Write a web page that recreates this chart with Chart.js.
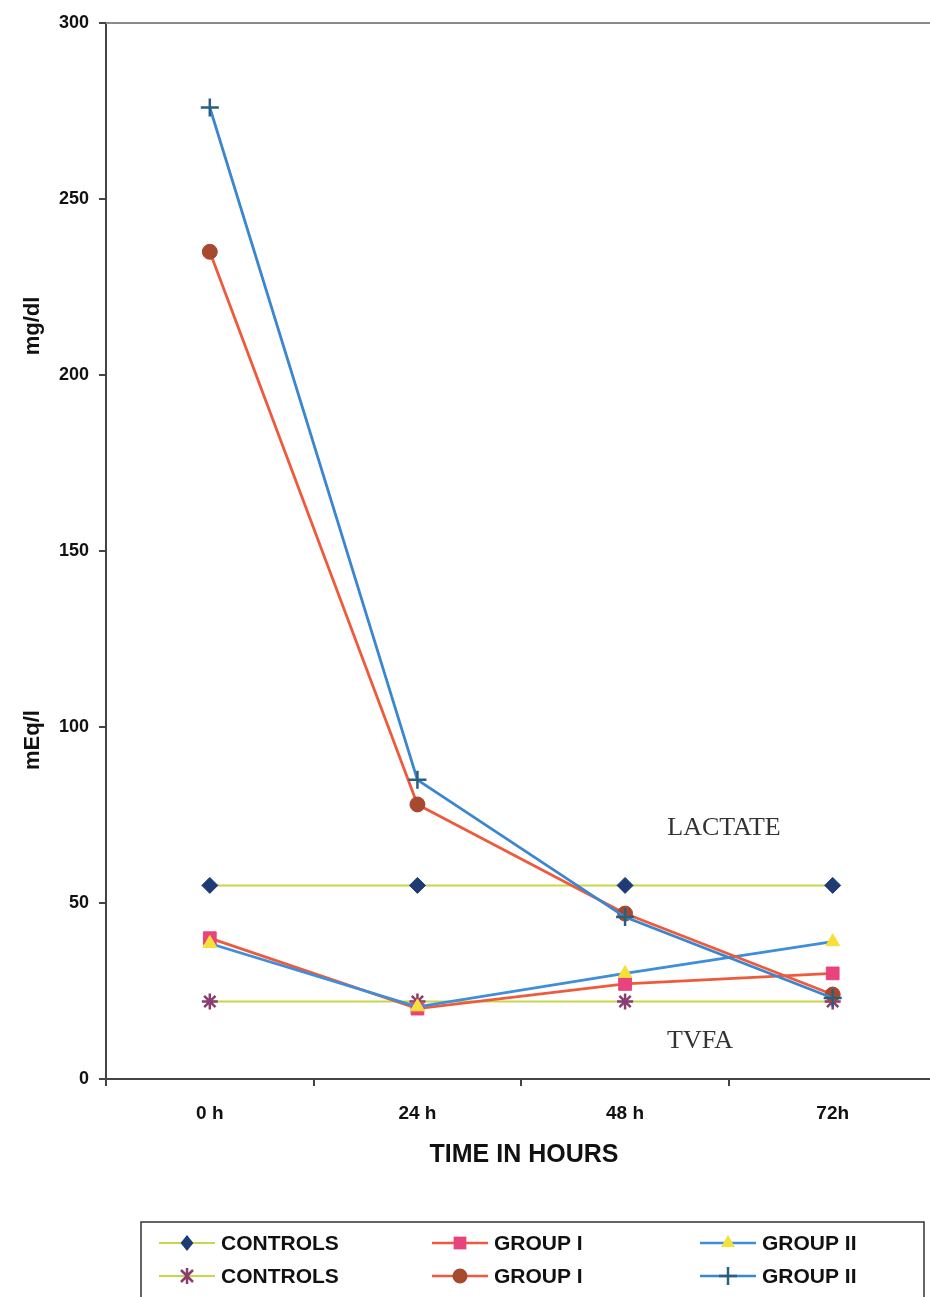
<!DOCTYPE html>
<html>
<head>
<meta charset="utf-8">
<script src="https://cdn.jsdelivr.net/npm/chart.js@4.4.1/dist/chart.umd.min.js"></script>
<style>
html,body{margin:0;padding:0;background:#fff;overflow:hidden;width:930px;height:1297px;}
canvas{display:block;}
</style>
</head>
<body>
<canvas id="c" width="948" height="1297"></canvas>
<script>
// ---- data ----
const categories = ['0 h', '24 h', '48 h', '72h'];
const controlsLactate = [55, 55, 55, 55];
const controlsTvfa = [22, 22, 22, 22];
const group1Tvfa = [40, 20, 27, 30];
const group2Tvfa = [38.5, 20.5, 30, 39];
const group1Lactate = [235, 78, 47, 24];
const group2Lactate = [276, 85, 46, 23];
const yMin = 0, yMax = 300, yStep = 50;
const legendLabels = ['CONTROLS', 'GROUP I', 'GROUP II', 'CONTROLS', 'GROUP I', 'GROUP II'];
const xTitle = 'TIME IN HOURS';
const yTitles = ['mg/dl', 'mEq/l'];
const notes = ['LACTATE', 'TVFA'];

const SANS = "'Liberation Sans', Arial, sans-serif";
const SERIF = "'Liberation Serif', 'Times New Roman', serif";

const styles = [
  {line: '#c8d64a', mk: '#1f3b73', ps: 'rectRot', r: 8, lw: 2},
  {line: '#ef5a3c', mk: '#e8437d', ps: 'rect', r: 9, lw: 2.8},
  {line: '#3d8fdc', mk: '#f5e03a', ps: 'triangle', r: 8, lw: 2.8},
  {line: '#c8d64a', mk: '#8a3d6e', ps: 'star', r: 8, lw: 2},
  {line: '#ef5a3c', mk: '#a6492e', ps: 'circle', r: 7.5, lw: 2.8},
  {line: '#3a86d0', mk: '#2a5f80', ps: 'cross', r: 9, lw: 2.8}
];
const series = [controlsLactate, group1Tvfa, group2Tvfa, controlsTvfa, group1Lactate, group2Lactate];
const orders = [10, 3, 2, 9, 1, 0];

const datasets = series.map((d, i) => ({
  label: legendLabels[i],
  data: d,
  borderColor: styles[i].line,
  borderWidth: styles[i].lw,
  backgroundColor: styles[i].mk,
  pointBackgroundColor: styles[i].mk,
  pointBorderColor: styles[i].mk,
  pointBorderWidth: (styles[i].ps === 'cross' || styles[i].ps === 'star') ? 2.5 : 1,
  pointStyle: styles[i].ps,
  pointRadius: styles[i].r,
  pointHoverRadius: styles[i].r,
  tension: 0,
  fill: false,
  order: orders[i]
}));

function drawMarker(ctx, ps, x, y, r, color) {
  ctx.save();
  ctx.fillStyle = color; ctx.strokeStyle = color; ctx.lineWidth = 2.5;
  ctx.beginPath();
  if (ps === 'rectRot') {
    ctx.moveTo(x, y - r); ctx.lineTo(x + r * 0.8, y); ctx.lineTo(x, y + r); ctx.lineTo(x - r * 0.8, y); ctx.closePath(); ctx.fill();
  } else if (ps === 'rect') {
    const s = r / Math.SQRT2; ctx.fillRect(x - s, y - s, 2 * s, 2 * s);
  } else if (ps === 'triangle') {
    ctx.moveTo(x, y - r); ctx.lineTo(x + r * 0.87, y + r * 0.5); ctx.lineTo(x - r * 0.87, y + r * 0.5); ctx.closePath(); ctx.fill();
  } else if (ps === 'circle') {
    ctx.arc(x, y, r, 0, Math.PI * 2); ctx.fill();
  } else if (ps === 'cross') {
    ctx.moveTo(x - r, y); ctx.lineTo(x + r, y); ctx.moveTo(x, y - r); ctx.lineTo(x, y + r); ctx.stroke();
  } else if (ps === 'star') {
    ctx.moveTo(x, y - r); ctx.lineTo(x, y + r);
    const a = r * 0.75;
    ctx.moveTo(x - a, y - a); ctx.lineTo(x + a, y + a);
    ctx.moveTo(x - a, y + a); ctx.lineTo(x + a, y - a);
    ctx.stroke();
  }
  ctx.restore();
}

const decor = {
  id: 'decor',
  beforeDatasetsDraw(chart) {
    const {ctx, chartArea} = chart;
    ctx.save();
    ctx.strokeStyle = '#8a8a8a';
    ctx.lineWidth = 2;
    ctx.beginPath();
    ctx.moveTo(chartArea.left, chartArea.top);
    ctx.lineTo(chartArea.right + 10, chartArea.top);
    ctx.stroke();
    ctx.restore();
  },
  afterDraw(chart) {
    const {ctx} = chart;
    ctx.save();
    // y titles
    ctx.fillStyle = '#111';
    ctx.font = 'bold 22px ' + SANS;
    ctx.textAlign = 'center';
    ctx.textBaseline = 'middle';
    [[33, 326], [33, 740]].forEach((p, i) => {
      ctx.save(); ctx.translate(p[0], p[1]); ctx.rotate(-Math.PI / 2);
      ctx.fillText(yTitles[i], 0, 0); ctx.restore();
    });
    // x title
    ctx.font = 'bold 25px ' + SANS;
    ctx.fillText(xTitle, 524, 1155);
    // notes
    ctx.font = '26px ' + SERIF;
    ctx.fillStyle = '#333';
    ctx.fillText(notes[0], 724, 828);
    ctx.fillText(notes[1], 700, 1041);
    // legend box
    ctx.strokeStyle = '#333';
    ctx.lineWidth = 1.5;
    ctx.strokeRect(141, 1222, 783, 90);
    const cols = [187, 460, 728];
    const rows = [1243, 1276];
    ctx.font = 'bold 21px ' + SANS;
    ctx.textAlign = 'left';
    for (let i = 0; i < 6; i++) {
      const cx = cols[i % 3], cy = rows[Math.floor(i / 3)];
      const st = styles[i];
      ctx.strokeStyle = st.line; ctx.lineWidth = Math.min(st.lw, 2.5);
      ctx.beginPath(); ctx.moveTo(cx - 28, cy); ctx.lineTo(cx + 28, cy); ctx.stroke();
      drawMarker(ctx, st.ps, cx, cy, st.r, st.mk);
      ctx.fillStyle = '#111';
      ctx.fillText(legendLabels[i], cx + 34, cy + 1);
    }
    ctx.restore();
  }
};

new Chart(document.getElementById('c'), {
  type: 'line',
  data: {labels: categories, datasets},
  options: {
    responsive: false,
    animation: false,
    events: [],
    layout: {padding: {left: 0, right: 4, top: 23, bottom: 0}},
    plugins: {legend: {display: false}, tooltip: {enabled: false}, title: {display: false}},
    scales: {
      x: {
        offset: true,
        grid: {offset: true, drawOnChartArea: false, drawTicks: true, tickLength: 7, color: '#444', lineWidth: 2},
        border: {display: true, color: '#444', width: 2},
        ticks: {font: {family: SANS, size: 19, weight: 'bold'}, color: '#111', padding: 16, maxRotation: 0},
        afterFit(s) { s.height = 218; }
      },
      y: {
        min: yMin, max: yMax,
        grid: {drawOnChartArea: false, drawTicks: true, tickLength: 7, color: '#444', lineWidth: 2},
        border: {display: true, color: '#444', width: 2},
        ticks: {stepSize: yStep, font: {family: SANS, size: 18, weight: 'bold'}, color: '#111', padding: 10},
        afterFit(s) { s.width = 106; }
      }
    }
  },
  plugins: [decor]
});
</script>
</body>
</html>
